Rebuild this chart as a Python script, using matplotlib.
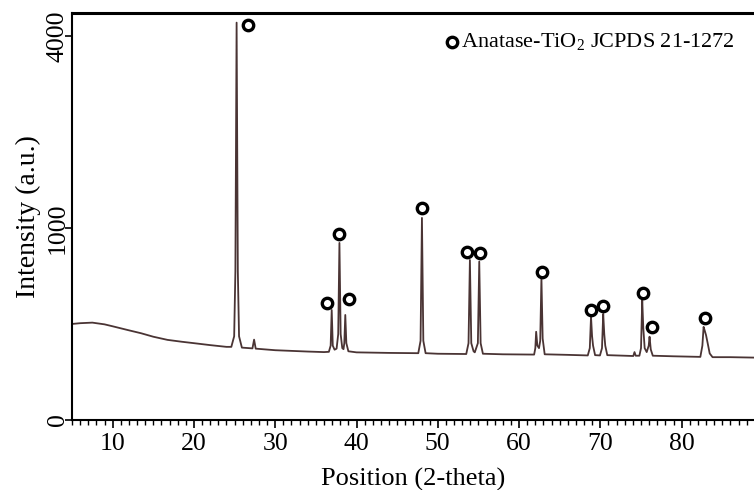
import numpy as np
import matplotlib
matplotlib.use('Agg')
import matplotlib.pyplot as plt
from matplotlib.ticker import MultipleLocator, FixedLocator

plt.rcParams['font.family'] = ['Liberation Serif', 'DejaVu Serif']
plt.rcParams['mathtext.fontset'] = 'custom'
plt.rcParams['mathtext.rm'] = 'Liberation Serif'

# XRD pattern vertices (2-theta, counts)
two_theta = [5.0, 6.0, 7.5, 9.0, 10.0, 12.0, 13.5, 15.0, 16.75, 18.5, 20.0, 22.0, 24.0,
             24.6, 24.95, 25.1, 25.25, 25.4, 25.55, 25.9,
             27.2, 27.4, 27.6,
             30.0, 34.0, 36.0,
             36.6, 36.82, 36.95, 37.08, 37.3,
             37.55, 37.75, 37.9, 38.05, 38.25,
             38.4, 38.5, 38.62, 38.75, 39.0,
             40.0, 44.0,
             47.6, 47.88, 48.05, 48.22, 48.5,
             50.0,
             53.5, 53.78, 53.95, 54.12, 54.4, 54.55,
             54.93, 55.1, 55.27, 55.55,
             58.0,
             61.85, 62.0, 62.1, 62.25, 62.45, 62.6, 62.75, 62.9, 63.15,
             66.0,
             68.45, 68.7, 68.85, 68.98, 69.1, 69.35,
             69.95, 70.2, 70.35, 70.48, 70.6, 70.85,
             73.0, 74.05, 74.2, 74.35,
             74.8, 75.0, 75.15, 75.28, 75.45, 75.7, 75.95, 76.05, 76.2, 76.45,
             79.0,
             82.3, 82.55, 82.7, 82.85, 83.0, 83.2, 83.45, 83.8,
             86.0, 90.0]
intensity = [250, 254, 257, 248, 238, 218, 204, 188, 174, 166, 160, 152, 145,
             145, 190, 600, 4280, 600, 190, 142,
             139, 175, 138,
             132, 127, 125,
             126, 150, 328, 150, 134,
             138, 200, 850, 200, 140,
             136, 160, 299, 160, 128,
             124, 122,
             121, 170, 1107, 170, 121,
             119,
             118, 160, 694, 160, 128, 124,
             160, 680, 160, 119,
             117,
             116, 140, 211, 150, 140, 170, 547, 180, 117,
             115,
             113, 140, 289, 190, 150, 114,
             113, 140, 305, 200, 150, 114,
             112, 111, 125, 112,
             112, 140, 391, 230, 140, 125, 150, 188, 135, 112,
             110,
             108, 150, 235, 215, 195, 160, 120, 107,
             107, 105]

# anatase markers (2-theta, counts)
mark_x = [26.6, 36.4, 37.85, 39.1, 48.1, 53.65, 55.2, 62.85, 68.8, 70.35, 75.2, 76.4, 82.9]
mark_y = [4220, 369, 938, 395, 1216, 768, 759, 597, 328, 353, 435, 233, 281]

fig = plt.figure(figsize=(7.54, 4.9), dpi=100)
ax = fig.add_axes([72/754, 1-420/490, 1-72/754, (420-13)/490])

ax.set_yscale('function', functions=(lambda v: np.sqrt(np.clip(v, 0, None)), np.square))
ax.plot(two_theta, intensity, color='#4a3434', linewidth=1.3)
ax.plot(mark_x, mark_y, 'o', ms=7.5, mfc='white', mec='black', mew=2.4, ls='none')

ax.set_xlim(5, 88.9)
ax.set_ylim(0, 4490)
ax.xaxis.set_major_locator(MultipleLocator(10))
ax.xaxis.set_minor_locator(MultipleLocator(1))
ax.yaxis.set_major_locator(FixedLocator([0, 1000, 4000]))
ax.yaxis.set_minor_locator(FixedLocator([]))
ax.tick_params(axis='x', which='major', direction='out', length=5.5, width=1.2, labelsize=18.5, pad=4)
ax.tick_params(axis='x', which='minor', direction='out', length=3.5, width=1.0)
ax.tick_params(axis='y', which='major', direction='out', length=5, width=1.2, labelsize=18.5, pad=-2.5)
for lab in ax.get_yticklabels():
    lab.set_rotation(90)
    lab.set_va('center')

ax.spines['right'].set_visible(False)
ax.spines['top'].set_linewidth(2.2)
ax.spines['left'].set_linewidth(1.5)
ax.spines['bottom'].set_linewidth(1.5)

ax.set_xlabel('Position (2-theta)', fontsize=19, labelpad=9.5)
ax.set_ylabel('Intensity (a.u.)', fontsize=20, labelpad=4)

# legend-like annotation
ax.plot([0.557], [0.929], 'o', ms=7.5, mfc='white', mec='black', mew=2.4, transform=ax.transAxes)
ax.text(0.571, 0.929, r'Anatase-TiO$_2$ JCPDS 21-1272', transform=ax.transAxes,
        fontsize=16, va='center', ha='left')

fig.savefig('out.png', dpi=100)
